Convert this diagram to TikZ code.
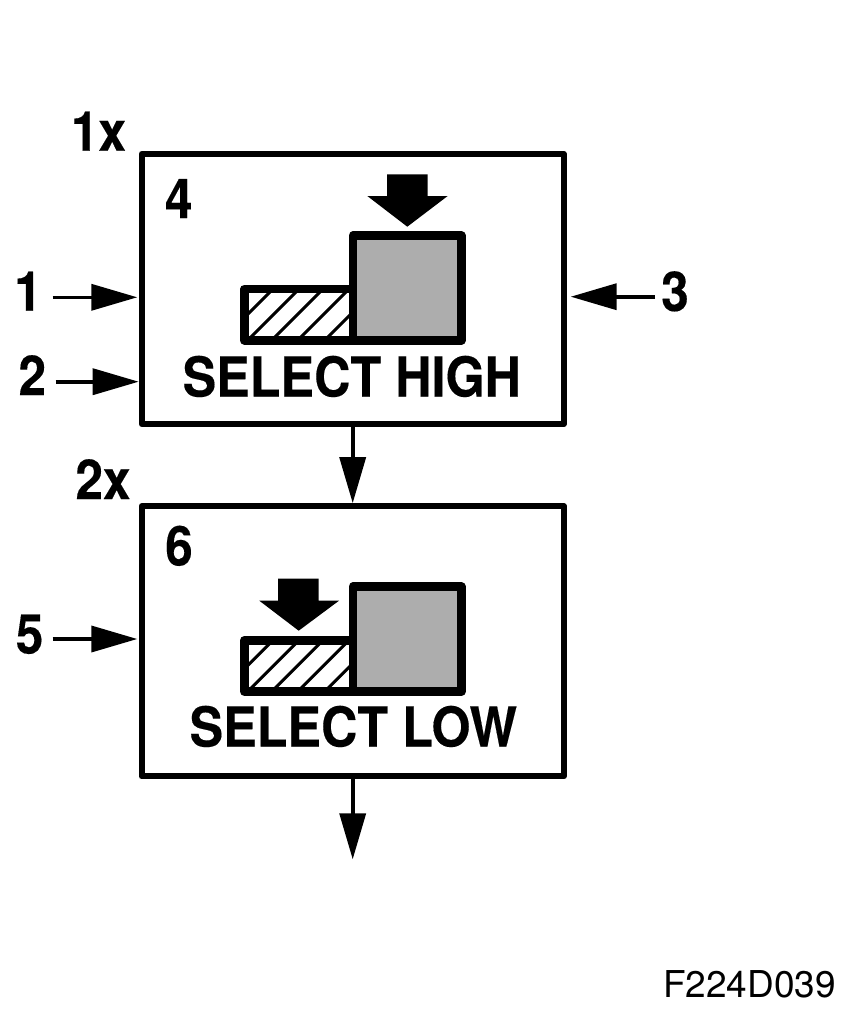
\documentclass[tikz,border=0pt]{standalone}
\usepackage{fontspec}
\usepackage{graphicx}
\setmainfont{TeX Gyre Heros}
\newfontfamily\heavyfont[FakeBold=0.25]{TeX Gyre Heros Bold}
\usetikzlibrary{arrows.meta}
\definecolor{symgray}{HTML}{ADADAD}
\newcommand{\numtxt}[1]{\scalebox{.9}[1]{\fontsize{55}{55}\selectfont\heavyfont #1}}
\newcommand{\captxt}[1]{\scalebox{.915}[1]{\fontsize{55}{55}\selectfont\heavyfont #1}}
\tikzset{
 box/.style={draw=black,line width=6.3pt,line join=round,fill=white,minimum width=422pt,minimum height=270pt,inner sep=0pt},
 lab/.style={inner sep=0pt,anchor=base},
 barout/.style={draw=black,line width=8.6pt,line join=round},
 hatchln/.style={line width=3pt,black},
 bigarrow/.style={fill=black},
 flow/.style={draw=black,line width=3.6pt,-{Triangle[length=46pt,width=26pt]}},
}
\begin{document}
\begin{tikzpicture}[x=1pt,y=-1pt]
\useasboundingbox (0,0) rectangle (854,1012);
\path[fill=white] (0,0) rectangle (854,1012);
% boxes
\node[box] (hi) at (352.7,289) {};
\node[box] (lo) at (352.7,641.3) {};
% upper symbol
\begin{scope}
\clip (244.3,289) rectangle (353,340.3);
\foreach \s in {562,588,612,638,665}{\draw[hatchln] (240,\s-240) -- (360,\s-360);}
\end{scope}
\path[barout] (244.3,289) rectangle (353,340.3);
\path[barout,fill=symgray] (353,235.7) rectangle (461.5,340.3);
\path[bigarrow] (387,174.3) -- (427.7,174.3) -- (427.7,196) -- (447.7,196) -- (407.3,226.7) -- (367.3,196) -- (387,196) -- cycle;
% lower symbol
\begin{scope}
\clip (244.3,640.3) rectangle (353,691.5);
\foreach \s in {913.3,939.3,963.3,989.3,1016.3}{\draw[hatchln] (240,\s-240) -- (360,\s-360);}
\end{scope}
\path[barout] (244.3,640.3) rectangle (353,691.5);
\path[barout,fill=symgray] (353,586.7) rectangle (461.5,691.5);
\path[bigarrow] (278,578.7) -- (318.7,578.7) -- (318.7,600.7) -- (339,600.7) -- (298.7,630.7) -- (259.3,600.7) -- (278,600.7) -- cycle;
% texts
\node[lab] (t1x) at (98.5,150.7) {\numtxt{1x}};
\node[lab] (t2x) at (103,499) {\numtxt{2x}};
\node[lab] (t4) at (178.7,218) {\numtxt{4}};
\node[lab] (t6) at (179,565.5) {\numtxt{6}};
\node[lab] (t1) at (28,310.7) {\numtxt{1}};
\node[lab] (t2) at (32.3,395) {\numtxt{2}};
\node[lab] (t3) at (675,311) {\numtxt{3}};
\node[lab] (t5) at (29.5,653.5) {\numtxt{5}};
\node[lab] (sh) at (351.8,396.5) {\captxt{SELECT HIGH}};
\node[lab] (sl) at (353.3,746.5) {\captxt{SELECT LOW}};
\node[lab] (code) at (749.5,997) {\fontsize{37}{37}\selectfont F224D039};
% connector ends
\coordinate (s1) at (52.7,297.3); \coordinate (e1) at (137.3,297.3);
\coordinate (s2) at (55.7,381.7); \coordinate (e2) at (138.7,381.7);
\coordinate (s3) at (655,296.7);  \coordinate (e3) at (570.7,296.7);
\coordinate (s5) at (52.7,639);   \coordinate (e5) at (137.3,639);
\coordinate (endp) at (352.7,859.3);
% connectors
\draw[flow] (s1) -- (e1);
\draw[flow] (s2) -- (e2);
\draw[flow] (s3) -- (e3);
\draw[flow] (s5) -- (e5);
\draw[flow] (hi.south) -- (lo.north);
\draw[flow] (lo.south) -- (endp);
\end{tikzpicture}
\end{document}
